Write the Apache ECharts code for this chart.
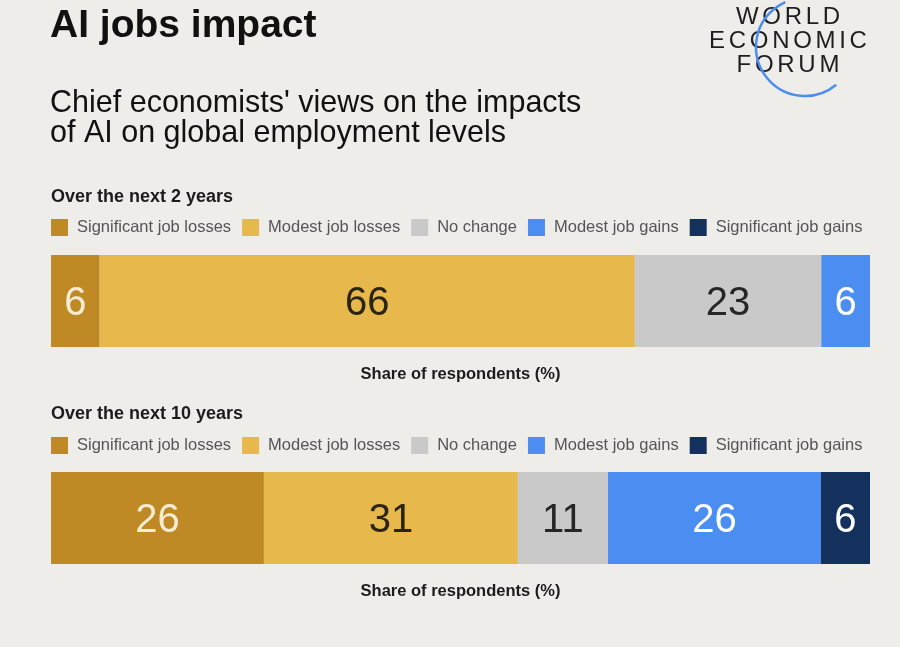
<!DOCTYPE html>
<html>
<head>
<meta charset="utf-8">
<script src="https://cdn.jsdelivr.net/npm/echarts@6/dist/echarts.min.js"></script>
<style>
  html, body { margin: 0; padding: 0; background: #eeede9; }
  #chart { width: 900px; height: 647px; }
</style>
</head>
<body>
<div id="chart"></div>
<script>
// chart data
const categories = ['Significant job losses', 'Modest job losses', 'No change', 'Modest job gains', 'Significant job gains'];
const next2Years = [6, 66, 23, 6, 0];
const next10Years = [26, 31, 11, 26, 6];
const periods = ['Over the next 2 years', 'Over the next 10 years'];
const axisTitle = 'Share of respondents (%)';

// styles
const colors = ['#bf8a26', '#e7b84b', '#c9c9c9', '#4b8df0', '#14305d'];
const labelColors = ['#f6ecd4', '#2b2412', '#262626', '#ffffff', '#ffffff'];
const FONT = 'Liberation Sans, Arial, sans-serif';

let myChart = echarts.init(document.getElementById('chart'));

const rows = [next2Years, next10Years];
const gridTops = [255, 472];

let series = [];
rows.forEach(function (row, g) {
  categories.forEach(function (name, i) {
    series.push({
      name: name,
      type: 'bar',
      stack: 'row' + g,
      xAxisIndex: g,
      yAxisIndex: g,
      barWidth: '100%',
      data: [row[i]],
      itemStyle: { color: colors[i] },
      label: {
        show: true,
        position: 'inside',
        offset: [0, 3],
        fontFamily: FONT,
        fontSize: 40,
        color: labelColors[i],
        formatter: function (p) { return p.value > 0 ? String(p.value) : ''; }
      },
      emphasis: { disabled: true },
      silent: true
    });
  });
});

// logo: WEF letters spaced out, plus the blue arc
const measure = document.createElement('canvas').getContext('2d');
measure.font = '24px ' + FONT;
const logoLines = [['WORLD', 17], ['ECONOMIC', 41], ['FORUM', 65]];
const spacing = 3.7;
let logo = [];
logoLines.forEach(function (line) {
  const word = line[0];
  const widths = word.split('').map(function (c) { return measure.measureText(c).width; });
  const total = widths.reduce(function (a, b) { return a + b; }, 0) + spacing * (word.length - 1);
  let x = 788 - total / 2;
  for (let k = 0; k < word.length; k++) {
    logo.push({
      type: 'text',
      x: x,
      y: line[1],
      style: {
        text: word[k],
        fontFamily: FONT,
        fontSize: 24,
        fill: '#1e1e1e',
        align: 'left',
        verticalAlign: 'middle'
      }
    });
    x += widths[k] + spacing;
  }
});
logo.push({
  type: 'arc',
  shape: { cx: 805, cy: 47, r: 49, startAngle: 0.88, endAngle: 4.3, clockwise: true },
  style: { stroke: '#4b8df0', lineWidth: 2.5, fill: null }
});

let option = {
  backgroundColor: '#eeede9',
  animation: false,
  title: [
    {
      text: 'AI jobs impact',
      left: 45, top: 2,
      textStyle: { fontFamily: FONT, fontSize: 39, fontWeight: 'bold', color: '#111' }
    },
    {
      text: "Chief economists' views on the impacts\nof AI on global employment levels",
      left: 45, top: 84,
      textStyle: { fontFamily: FONT, fontSize: 30.5, fontWeight: 'normal', color: '#111', lineHeight: 30 }
    },
    {
      text: periods[0],
      left: 46, top: 183,
      textStyle: { fontFamily: FONT, fontSize: 18, fontWeight: 'bold', color: '#1c1c1c' }
    },
    {
      text: periods[1],
      left: 46, top: 400,
      textStyle: { fontFamily: FONT, fontSize: 18, fontWeight: 'bold', color: '#1c1c1c' }
    }
  ],
  legend: [0, 1].map(function (g) {
    return {
      data: categories,
      left: 46,
      top: [214, 432][g],
      icon: 'rect',
      itemWidth: 17,
      itemHeight: 17,
      itemGap: 11,
      selectedMode: false,
      textStyle: { fontFamily: FONT, fontSize: 16.5, color: '#555', padding: [0, 0, 0, 4] }
    };
  }),
  grid: gridTops.map(function (t) {
    return { left: 51, right: 30, top: t, height: 92 };
  }),
  xAxis: rows.map(function (row, g) {
    return {
      type: 'value',
      gridIndex: g,
      min: 0,
      max: row.reduce(function (a, b) { return a + b; }, 0),
      name: axisTitle,
      nameLocation: 'middle',
      nameGap: 19,
      nameTextStyle: { fontFamily: FONT, fontSize: 16.5, fontWeight: 'bold', color: '#1c1c1c' },
      axisLine: { show: false },
      axisTick: { show: false },
      axisLabel: { show: false },
      splitLine: { show: false }
    };
  }),
  yAxis: rows.map(function (row, g) {
    return {
      type: 'category',
      gridIndex: g,
      data: [periods[g]],
      show: false
    };
  }),
  graphic: logo,
  series: series
};

myChart.setOption(option);
</script>
</body>
</html>
